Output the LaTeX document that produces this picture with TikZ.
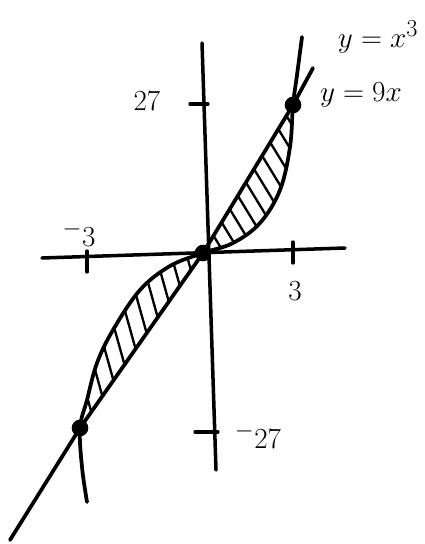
\documentclass[tikz,border=0pt]{standalone}
\usepackage{amsmath}
\usetikzlibrary{positioning,calc}
\tikzset{
  axis/.style  ={line width=3pt, line cap=round},
  tick/.style  ={line width=2.8pt, line cap=round},
  curve/.style ={line width=3.2pt, line cap=round, line join=round},
  hatch/.style ={line width=2pt, line cap=round},
  dot/.style   ={circle, fill=black, inner sep=0pt, minimum size=5mm},
  lbl/.style   ={font=\fontsize{28}{34}\selectfont, inner sep=1pt},
}

\begin{document}
\begin{tikzpicture}[x=0.03cm, y=-0.03cm]
\useasboundingbox (0,0) rectangle (424,544);

% axes
\coordinate (xl) at (42,258);
\coordinate (xr) at (345,248);
\coordinate (yt) at (202,43);
\coordinate (yb) at (216,470);
\draw[axis] (xl) -- (xr);
\draw[axis] (yt) -- (yb);

% ticks
\draw[tick] (87,251) -- (87,272);
\draw[tick] (293,242) -- (293,263);
\draw[tick] (190,104) -- (208,104);
\draw[tick] (195,432) -- (218,432);

% intersection points and line ends
\coordinate (o) at (203,253);
\coordinate (p) at (293,105);
\coordinate (q) at (80,428);
\coordinate (lt) at (313,68);
\coordinate (lb) at (10,540);

% shaded regions
\begin{scope}
  \clip (o) -- (p) -- plot[smooth, tension=0.6] coordinates
    {(293,105) (290,147) (280,190) (260,223) (233,243) (203,253)} -- cycle;
  \foreach \t in {0.12,0.21,...,0.95}
    \draw[hatch] ($(o)!\t!(p) + (-3,-4)$) -- ($(o)!\t!(p) + (36,60)$);
\end{scope}
\begin{scope}
  \clip (o) -- (q) -- plot[smooth, tension=0.6] coordinates
    {(80,428) (87,400) (97,363) (113,330) (140,290) (170,266) (203,253)} -- cycle;
  \foreach \t in {0.1,0.19,...,0.92}
    \draw[hatch] ($(o)!\t!(q) + (2,6)$) -- ($(o)!\t!(q) + (-22,-80)$);
\end{scope}

% curves
\draw[curve] plot[smooth, tension=0.6] coordinates
  {(302,37) (297,75) (293,105) (290,147) (280,190) (260,223) (233,243)
   (203,253) (170,266) (140,290) (113,330) (97,363) (87,400) (80,428)
   (82,467) (87,502)};
\draw[curve] (lb) -- (q) -- (o) -- (p) -- (lt);

% dots
\node[dot] (do) at (o) {};
\node[dot] (dp) at (p) {};
\node[dot] (dq) at (q) {};

% labels
\node[lbl] (cubic) at (378,37)  {$y = x^{3}$};
\node[lbl] (lin)   at (361,95)  {$y = 9x$};
\node[lbl] (ytop)  at (147,101) {$27$};
\node[lbl] (ybot)  at (258,436) {$^{-}27$};
\node[lbl] (xneg)  at (79,234)  {$^{-}3$};
\node[lbl] (xpos)  at (295,291) {$3$};
\end{tikzpicture}
\end{document}
